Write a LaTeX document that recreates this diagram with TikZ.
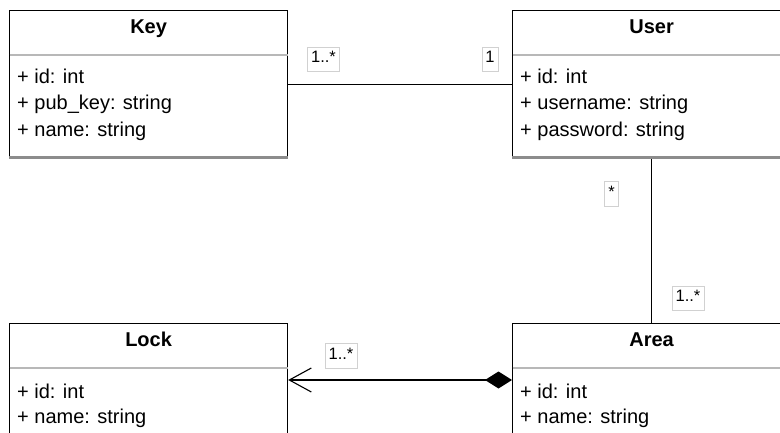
\documentclass[tikz,border=0pt]{standalone}
\usepackage{fontspec}
\setmainfont{Liberation Sans}
\usetikzlibrary{arrows.meta,calc}
\begin{document}
\begin{tikzpicture}[x=1pt,y=-1pt,
  classbox/.style={draw=black, line width=1.2pt, fill=white, anchor=north west,
    inner sep=0pt, minimum width=278pt, minimum height=148pt},
  classname/.style={anchor=base, inner sep=0pt, font=\fontsize{20}{24}\selectfont\bfseries},
  attr/.style={anchor=base west, inner sep=0pt, font=\fontsize{20}{24}\selectfont},
  headsep/.style={draw=black!28, line width=2.2pt},
  footsep/.style={draw=black!45, line width=3pt},
  assoc/.style={draw=black, line width=1.3pt},
  mult/.style={draw=black!18, line width=0.6pt, fill=white, inner xsep=3.5pt, inner ysep=3pt,
    text height=12.5pt, text depth=6pt, font=\fontsize{16.5}{18}\selectfont}
]
\useasboundingbox (0,0) rectangle (780,433);
\clip (0,0) rectangle (780,433);

% class boxes
\node[classbox] (key)  at (9,10)   {};
\node[classbox] (user) at (512,10) {};
\node[classbox] (lock) at (9,323)  {};
\node[classbox] (area) at (512,323) {};

% header separators and closing compartment lines
\foreach \c in {key,user,lock,area}{
  \draw[headsep] ($(\c.north west)+(0.6,45)$) -- ($(\c.north east)+(-0.6,45)$);
}
\foreach \c in {key,user}{
  \draw[footsep] ($(\c.south west)+(0,-1.5)$) -- ($(\c.south east)+(0,-1.5)$);
}

% class names
\node[classname] (keyname)  at ($(key.north)+(0,24)$)  {Key};
\node[classname] (username) at ($(user.north)+(0,24)$) {User};
\node[classname] (lockname) at ($(lock.north)+(0,23)$) {Lock};
\node[classname] (areaname) at ($(area.north)+(0,23)$) {Area};

% attributes
\node[attr] (keya1) at ($(key.north west)+(8,74)$)  {+ id: int};
\node[attr] (keya2) at ($(key.north west)+(8,100)$) {+ pub\_key: string};
\node[attr] (keya3) at ($(key.north west)+(8,127)$) {+ name: string};

\node[attr] (usera1) at ($(user.north west)+(8,74)$)  {+ id: int};
\node[attr] (usera2) at ($(user.north west)+(8,100)$) {+ username: string};
\node[attr] (usera3) at ($(user.north west)+(8,127)$) {+ password: string};

\node[attr] (locka1) at ($(lock.north west)+(8,75)$)  {+ id: int};
\node[attr] (locka2) at ($(lock.north west)+(8,100)$) {+ name: string};

\node[attr] (areaa1) at ($(area.north west)+(8,75)$)  {+ id: int};
\node[attr] (areaa2) at ($(area.north west)+(8,100)$) {+ name: string};

% associations
\draw[assoc] (key.east) -- (user.west);
\draw[assoc] (user.south) -- (area.north);
\draw[assoc, {Diamond[length=27pt,width=17pt]}-{Straight Barb[length=22pt,width=24pt,line width=1.1pt]}]
  ($(area.north west)+(0,57)$) -- ($(lock.north east)+(0,57)$);

% multiplicities
\node[mult] (mkey)  at (323.5,59.5) {1..*};
\node[mult] (muser) at (490,59.5)   {1};
\node[mult] (mua)   at (611.5,194)  {*};
\node[mult] (mau)   at (688,298.5)  {1..*};
\node[mult] (mlock) at (341,356)    {1..*};
\end{tikzpicture}
\end{document}
